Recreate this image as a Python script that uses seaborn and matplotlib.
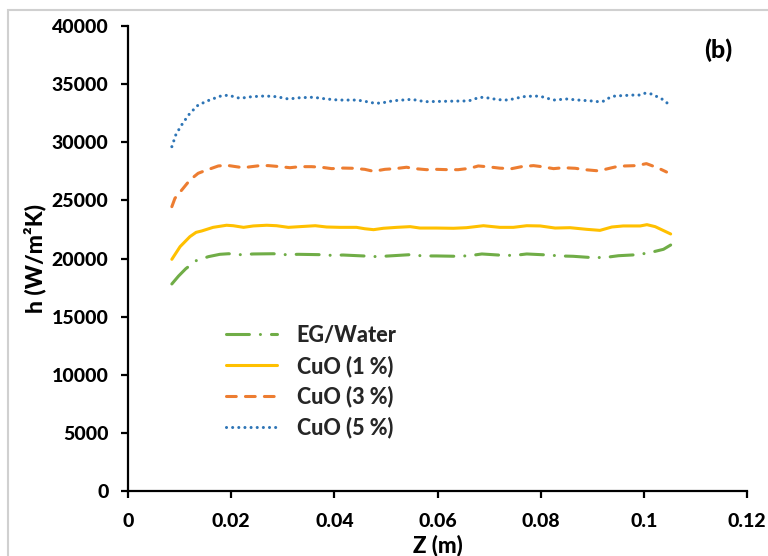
import matplotlib
matplotlib.use("Agg")
import matplotlib.pyplot as plt
from matplotlib.patches import Rectangle
import pandas as pd
import seaborn as sns

# Axial position Z (m) and heat transfer coefficient h (W/m²K) per fluid
z_eg = [0.0085, 0.0098, 0.0112, 0.0132, 0.0156, 0.0178, 0.0195, 0.0217, 0.0243, 0.0282,
        0.0306, 0.0330, 0.0372, 0.0395, 0.0417, 0.0456, 0.0483, 0.0506, 0.0547, 0.0572,
        0.0598, 0.0637, 0.0662, 0.0686, 0.0728, 0.0750, 0.0773, 0.0815, 0.0837, 0.0863,
        0.0902, 0.0927, 0.0951, 0.0989, 0.1014, 0.1038, 0.1052]
h_eg = [17810, 18490, 19120, 19810, 20160, 20360, 20410, 20330, 20390, 20410,
        20330, 20360, 20330, 20270, 20300, 20220, 20160, 20220, 20330, 20220,
        20220, 20190, 20240, 20390, 20270, 20270, 20390, 20300, 20220, 20190,
        20070, 20100, 20240, 20330, 20530, 20790, 21160]

z_cuo1 = [0.0085, 0.0101, 0.0120, 0.0132, 0.0143, 0.0165, 0.0191, 0.0204, 0.0224, 0.0243,
          0.0269, 0.0288, 0.0311, 0.0333, 0.0363, 0.0385, 0.0411, 0.0443, 0.0459, 0.0476,
          0.0495, 0.0521, 0.0547, 0.0566, 0.0598, 0.0631, 0.0656, 0.0689, 0.0721, 0.0747,
          0.0773, 0.0799, 0.0828, 0.0857, 0.0889, 0.0915, 0.0938, 0.0960, 0.0993, 0.1006,
          0.1022, 0.1052]
h_cuo1 = [19930, 21020, 21880, 22250, 22370, 22680, 22860, 22820, 22680, 22800,
          22860, 22820, 22680, 22740, 22820, 22710, 22680, 22680, 22560, 22480,
          22600, 22680, 22740, 22620, 22620, 22600, 22650, 22820, 22680, 22680,
          22820, 22800, 22620, 22650, 22510, 22420, 22710, 22800, 22800, 22910,
          22740, 22110]

z_cuo3 = [0.0085, 0.0091, 0.0107, 0.0120, 0.0136, 0.0149, 0.0175, 0.0191, 0.0217, 0.0230,
          0.0256, 0.0272, 0.0295, 0.0314, 0.0333, 0.0356, 0.0375, 0.0395, 0.0417, 0.0437,
          0.0459, 0.0476, 0.0498, 0.0518, 0.0540, 0.0556, 0.0579, 0.0598, 0.0621, 0.0640,
          0.0663, 0.0679, 0.0702, 0.0721, 0.0744, 0.0763, 0.0786, 0.0802, 0.0825, 0.0844,
          0.0867, 0.0886, 0.0909, 0.0925, 0.0947, 0.0963, 0.0986, 0.1005, 0.1028, 0.1044]
h_cuo3 = [24460, 25180, 26040, 26750, 27330, 27550, 27960, 28020, 27850, 27850,
          27990, 27990, 27900, 27810, 27900, 27900, 27850, 27730, 27780, 27760,
          27670, 27500, 27670, 27730, 27850, 27730, 27640, 27670, 27640, 27640,
          27760, 27960, 27870, 27770, 27730, 27900, 27990, 27900, 27730, 27810,
          27760, 27640, 27550, 27670, 27900, 27960, 27990, 28160, 27780, 27440]

z_cuo5 = [0.0085, 0.0093, 0.0106, 0.0120, 0.0136, 0.0158, 0.0182, 0.0195, 0.0217, 0.0240,
          0.0266, 0.0288, 0.0311, 0.0333, 0.0359, 0.0385, 0.0408, 0.0443, 0.0456, 0.0479,
          0.0492, 0.0514, 0.0550, 0.0576, 0.0611, 0.0647, 0.0660, 0.0682, 0.0695, 0.0718,
          0.0737, 0.0766, 0.0789, 0.0802, 0.0825, 0.0850, 0.0873, 0.0899, 0.0912, 0.0921,
          0.0931, 0.0944, 0.0980, 0.0993, 0.1002, 0.1015, 0.1035, 0.1046]
h_cuo5 = [29620, 30680, 31630, 32490, 33200, 33630, 34010, 34040, 33780, 33920,
          33980, 33920, 33720, 33830, 33870, 33720, 33630, 33630, 33550, 33350,
          33380, 33570, 33690, 33490, 33520, 33550, 33550, 33870, 33830, 33660,
          33630, 33920, 33980, 33920, 33630, 33720, 33630, 33550, 33490, 33520,
          33780, 33980, 34060, 34060, 34210, 34150, 33720, 33350]

labels = ["EG/Water", "CuO (1 %)", "CuO (3 %)", "CuO (5 %)"]
colors = ["#70AD47", "#FFC000", "#ED7D31", "#2E75B6"]
x_ticks = [0, 0.02, 0.04, 0.06, 0.08, 0.1, 0.12]
x_tick_labels = ["0", "0.02", "0.04", "0.06", "0.08", "0.1", "0.12"]
y_ticks = list(range(0, 40001, 5000))

sns.set_theme(style="white")
plt.rcParams["font.family"] = ["Lato", "DejaVu Sans"]
WEIGHT = 900

fig = plt.figure(figsize=(7.68, 5.56), dpi=100)
ax = fig.add_axes([128 / 768, 1 - 491 / 556, (747 - 128) / 768, (491 - 26) / 556])

series = [(z_eg, h_eg), (z_cuo1, h_cuo1), (z_cuo3, h_cuo3), (z_cuo5, h_cuo5)]
line_styles = [
    (0, (7.5, 3.6, 0.01, 3.6)),  # long dash - dot
    "-",
    (0, (3.2, 3.0)),             # dashes
    (0, (0.01, 2.0)),            # round dots
]

lw = 2.2
for (zs, hs), lab, col, ls in zip(series, labels, colors, line_styles):
    df = pd.DataFrame({"Z": zs, "h": hs})
    sns.lineplot(data=df, x="Z", y="h", ax=ax, color=col, label=lab,
                 linewidth=lw, linestyle=ls, dash_capstyle="round",
                 solid_capstyle="round", sort=False)

ax.set_xlim(0, 0.12)
ax.set_ylim(0, 40000)
ax.set_xticks(x_ticks)
ax.set_xticklabels(x_tick_labels)
ax.set_yticks(y_ticks)
ax.set_yticklabels([str(v) for v in y_ticks])

for side in ["top", "right"]:
    ax.spines[side].set_visible(False)
for side in ["left", "bottom"]:
    ax.spines[side].set_color("black")
    ax.spines[side].set_linewidth(1.6)

ax.tick_params(axis="both", which="major", direction="out", length=5, width=1.6,
               color="black", labelsize=14, labelcolor="black",
               left=True, bottom=True)
ax.tick_params(axis="y", pad=9)
ax.tick_params(axis="x", pad=11)
for t in ax.get_xticklabels() + ax.get_yticklabels():
    t.set_fontweight(WEIGHT)

ax.set_xlabel("Z (m)", fontsize=16, fontweight=WEIGHT, color="black")
ax.xaxis.set_label_coords(0.5, -0.118)
ax.xaxis.label.set_va("center")
ax.set_ylabel("h (W/m²K)", fontsize=16.5, fontweight=WEIGHT, color="black", labelpad=4)

ax.text(0.953, 0.948, "(b)", transform=ax.transAxes, fontsize=18, fontweight=WEIGHT,
        ha="center", va="center", color="black")

leg = ax.legend(loc="upper left", bbox_to_anchor=(0.158, 0.357), frameon=False,
                prop={"weight": WEIGHT, "size": 15.5}, handlelength=2.4,
                handletextpad=0.9, labelspacing=0.42, borderaxespad=0,
                borderpad=0)

# light outer frame of the chart area
fig.add_artist(Rectangle((8 / 768, -0.1), 1.2, 1.1 - 10 / 556,
                         transform=fig.transFigure, fill=False,
                         edgecolor="#D0D0D0", linewidth=1.5))

fig.savefig("out.png", dpi=100)
